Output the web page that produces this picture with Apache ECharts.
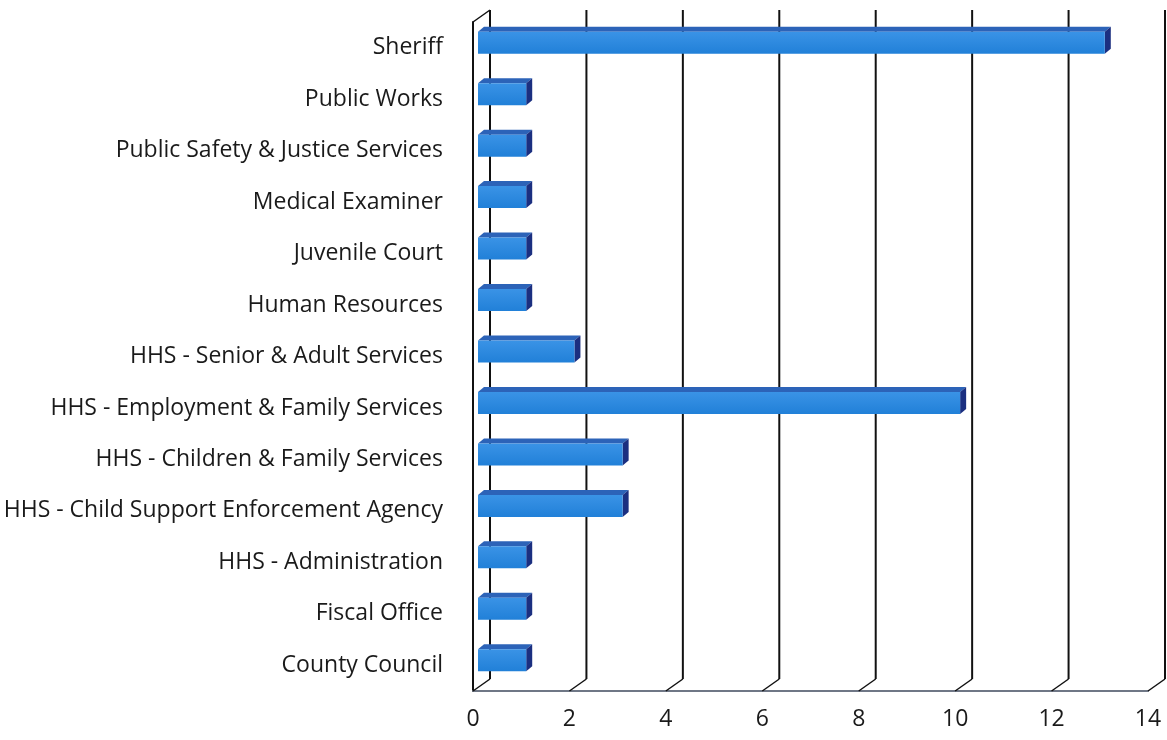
<!DOCTYPE html>
<html>
<head>
<meta charset="utf-8">
<script src="https://cdn.jsdelivr.net/npm/echarts@6/dist/echarts.min.js"></script>
<style>
  html, body { margin: 0; padding: 0; background: #fff; }
  #chart { width: 1167px; height: 740px; }
</style>
</head>
<body>
<div id="chart"></div>
<script>
var categories = ['Sheriff', 'Public Works', 'Public Safety & Justice Services', 'Medical Examiner',
    'Juvenile Court', 'Human Resources', 'HHS - Senior & Adult Services',
    'HHS - Employment & Family Services', 'HHS - Children & Family Services',
    'HHS - Child Support Enforcement Agency', 'HHS - Administration', 'Fiscal Office', 'County Council'];
var values = [13, 1, 1, 1, 1, 1, 2, 10, 3, 3, 1, 1, 1];
var tickValues = [0, 2, 4, 6, 8, 10, 12, 14];

// pseudo 3D depth of the chart box and of the bars
var DX = 17, DY = -12;
var BX = 5, BY = -5, BH = 22, BD = 6, BDY = -5;

var myChart = echarts.init(document.getElementById('chart'));

var option = {
    backgroundColor: '#fff',
    animation: false,
    grid: { left: 473, right: 19, top: 22, bottom: 49 },
    xAxis: {
        type: 'value',
        min: 0,
        max: 14,
        interval: 2,
        axisLine: { show: true, lineStyle: { color: '#6f7786', width: 2 } },
        axisTick: { show: false },
        splitLine: { show: false },
        axisLabel: { color: '#1a1a1a', fontSize: 23, fontFamily: 'Open Sans', margin: 17 }
    },
    yAxis: {
        type: 'category',
        inverse: true,
        data: categories,
        axisLine: { show: true, lineStyle: { color: '#111', width: 2 } },
        axisTick: { show: false },
        axisLabel: { color: '#1a1a1a', fontSize: 23, fontFamily: 'Open Sans', margin: 30 }
    },
    series: [
        {
            // back wall lines and floor diagonals
            type: 'custom',
            z: 1,
            silent: true,
            data: tickValues.map(function (v) { return [v, 0]; }),
            renderItem: function (params, api) {
                var cs = params.coordSys;
                var x = api.coord([api.value(0), 0])[0];
                var top = cs.y, bottom = cs.y + cs.height;
                var style = { stroke: '#111', lineWidth: 2, fill: null };
                var children = [
                    { type: 'line', shape: { x1: x + DX, y1: top + DY, x2: x + DX, y2: bottom + DY }, style: style },
                    { type: 'line', shape: { x1: x, y1: bottom, x2: x + DX, y2: bottom + DY }, style: { stroke: '#111', lineWidth: 1.5 } }
                ];
                if (api.value(0) === 0) {
                    children.push({ type: 'line', shape: { x1: x, y1: top, x2: x + DX, y2: top + DY }, style: { stroke: '#111', lineWidth: 1.5 } });
                }
                return { type: 'group', children: children };
            }
        },
        {
            type: 'custom',
            z: 3,
            data: values.map(function (v, i) { return [v, i]; }),
            renderItem: function (params, api) {
                var p0 = api.coord([0, api.value(1)]);
                var p1 = api.coord([api.value(0), api.value(1)]);
                var x0 = p0[0] + BX, x1 = p1[0] + BX;
                var cy = p0[1] + BY;
                var t = cy - BH / 2, b = cy + BH / 2;
                return {
                    type: 'group',
                    children: [
                        {
                            type: 'polygon',
                            shape: { points: [[x0, t], [x0 + BD, t + BDY], [x1 + BD, t + BDY], [x1, t]] },
                            style: { fill: '#2c63b8' }
                        },
                        {
                            type: 'polygon',
                            shape: { points: [[x1, t], [x1 + BD, t + BDY], [x1 + BD, b + BDY], [x1, b]] },
                            style: { fill: '#1b2f80' }
                        },
                        {
                            type: 'rect',
                            shape: { x: x0, y: t, width: x1 - x0, height: BH },
                            style: {
                                fill: new echarts.graphic.LinearGradient(0, 0, 0, 1, [
                                    { offset: 0, color: '#3a93e6' },
                                    { offset: 1, color: '#2180d8' }
                                ])
                            }
                        }
                    ]
                };
            }
        }
    ]
};
myChart.setOption(option);
</script>
</body>
</html>
